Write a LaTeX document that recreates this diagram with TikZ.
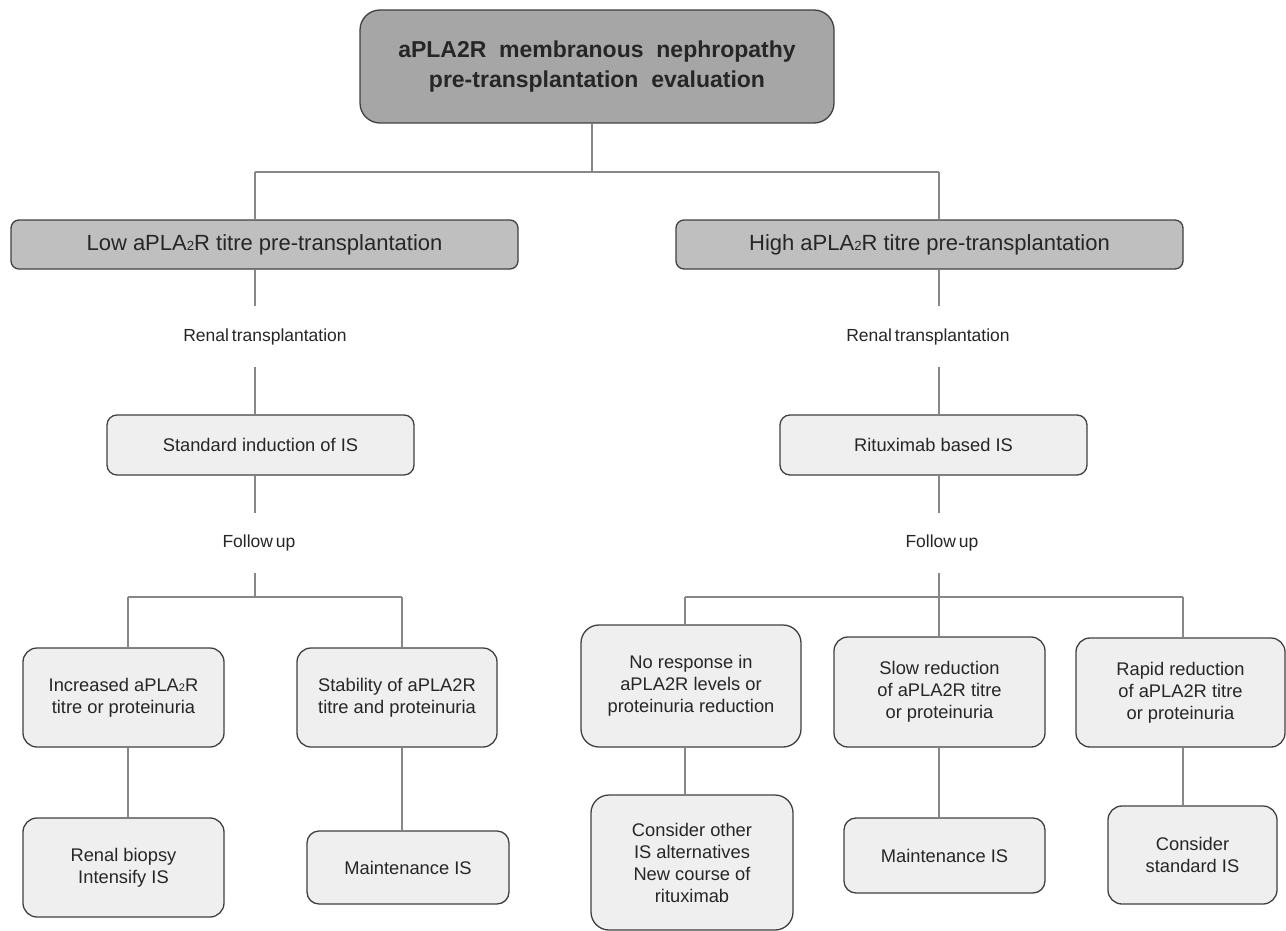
\documentclass[tikz,border=0pt]{standalone}
\usepackage{fontspec}
\setmainfont{Liberation Sans}
\usepackage{xcolor}

\definecolor{edgegray}{HTML}{404040}
\definecolor{linegray}{HTML}{878787}
\definecolor{darkfill}{HTML}{A6A6A6}
\definecolor{midfill}{HTML}{BFBFBF}
\definecolor{lightfill}{HTML}{EFEFEF}
\definecolor{txt}{HTML}{262626}
\newcommand{\subtwo}{\scalebox{0.6}{2}}

\tikzset{
  box/.style={draw=edgegray, line width=1.3pt, inner sep=0pt, align=center, text=txt, rounded corners=14pt},
  titlebox/.style={box, fill=darkfill, rounded corners=20pt, font=\fontsize{23}{30}\selectfont\bfseries},
  riskbox/.style={box, fill=midfill, rounded corners=8pt, font=\fontsize{22}{25}\selectfont},
  stepbox/.style={box, fill=lightfill, font=\fontsize{18.3}{22}\selectfont},
  lbl/.style={inner sep=0pt, text=txt, font=\fontsize{17.5}{20}\selectfont},
  conn/.style={draw=linegray, line width=1.2pt}
}

\begin{document}
\begin{tikzpicture}[x=1pt,y=-1pt]
        \useasboundingbox (0,0) rectangle (1286,931);
        \node[titlebox, minimum width=474pt, minimum height=113pt](top) at (597,66.5) {aPLA2R\ \ membranous\ \ nephropathy\\pre-transplantation\ \ evaluation};
        \node[riskbox, minimum width=507pt, minimum height=49pt](low) at (264.5,244.5) {Low aPLA\subtwo R titre pre-transplantation};
        \node[riskbox, minimum width=507pt, minimum height=49pt](high) at (929.5,244.5) {High aPLA\subtwo R titre pre-transplantation};
        \node[lbl, minimum height=61pt](rtl) at (265,336.5) {Renal\,transplantation};
        \node[lbl, minimum height=61pt](rtr) at (928,336.5) {Renal\,transplantation};
        \node[stepbox, rounded corners=10pt, minimum width=307pt, minimum height=60pt](std) at (260.5,445) {Standard induction of IS};
        \node[stepbox, rounded corners=10pt, minimum width=307pt, minimum height=60pt](rtx) at (933.5,445) {Rituximab based IS};
        \node[lbl, minimum height=60pt](ful) at (259,543) {Follow\,up};
        \node[lbl, minimum height=60pt](fur) at (942,543) {Follow\,up};
        \node[stepbox, minimum width=201pt, minimum height=99pt](inc) at (123.5,697.5) {Increased aPLA\subtwo R\\titre or proteinuria};
        \node[stepbox, minimum width=200pt, minimum height=99pt](sta) at (397,697.5) {Stability of aPLA2R\\titre and proteinuria};
        \node[stepbox, minimum width=201pt, minimum height=99pt](bio) at (123.5,867.5) {Renal biopsy\\Intensify IS};
        \node[stepbox, rounded corners=12pt, minimum width=202pt, minimum height=73pt](mnl) at (408,867.5) {Maintenance IS};
        \node[stepbox, rounded corners=18pt, minimum width=220pt, minimum height=122pt](nor) at (691,686) {No response in\\aPLA2R levels or\\proteinuria reduction};
        \node[stepbox, minimum width=211pt, minimum height=110pt](slo) at (939.5,692) {Slow reduction\\of aPLA2R titre\\or proteinuria};
        \node[stepbox, minimum width=209pt, minimum height=109pt](rap) at (1180.5,692.5) {Rapid reduction\\of aPLA2R titre\\or proteinuria};
        \node[stepbox, rounded corners=18pt, minimum width=202pt, minimum height=135pt](con) at (692,862.5) {Consider other\\IS alternatives\\New course of\\rituximab};
        \node[stepbox, rounded corners=12pt, minimum width=201pt, minimum height=75pt](mnr) at (944.5,855.5) {Maintenance IS};
        \node[stepbox, minimum width=169pt, minimum height=98pt](cst) at (1192.5,855) {Consider\\standard IS};
        \coordinate(hub) at (592,172);
        \coordinate(bl) at (255,172);
        \coordinate(br) at (939,172);
        \coordinate(l1) at (128,597);
        \coordinate(l2) at (402,597);
        \coordinate(r1) at (685,597);
        \coordinate(r2) at (939,597);
        \coordinate(r3) at (1183,597);
        \draw[conn](top.south -| hub)--(hub);
        \draw[conn](bl)--(br);
        \draw[conn](bl)--(bl |- low.north);
        \draw[conn](br)--(br |- high.north);
        \draw[conn](low.south -| bl)--(bl |- rtl.north);
        \draw[conn](bl |- rtl.south)--(bl |- std.north);
        \draw[conn](bl |- std.south)--(bl |- ful.north);
        \draw[conn](bl |- ful.south)--(bl |- l1);
        \draw[conn](high.south -| br)--(br |- rtr.north);
        \draw[conn](br |- rtr.south)--(br |- rtx.north);
        \draw[conn](br |- rtx.south)--(br |- fur.north);
        \draw[conn](br |- fur.south)--(r2);
        \draw[conn](l1)--(l2);
        \draw[conn](l1)--(l1 |- inc.north);
        \draw[conn](l2)--(l2 |- sta.north);
        \draw[conn](l1 |- inc.south)--(l1 |- bio.north);
        \draw[conn](l2 |- sta.south)--(l2 |- mnl.north);
        \draw[conn](r1)--(r3);
        \draw[conn](r1)--(r1 |- nor.north);
        \draw[conn](r2)--(r2 |- slo.north);
        \draw[conn](r3)--(r3 |- rap.north);
        \draw[conn](r1 |- nor.south)--(r1 |- con.north);
        \draw[conn](r2 |- slo.south)--(r2 |- mnr.north);
        \draw[conn](r3 |- rap.south)--(r3 |- cst.north);
        \end{tikzpicture}
\end{document}
